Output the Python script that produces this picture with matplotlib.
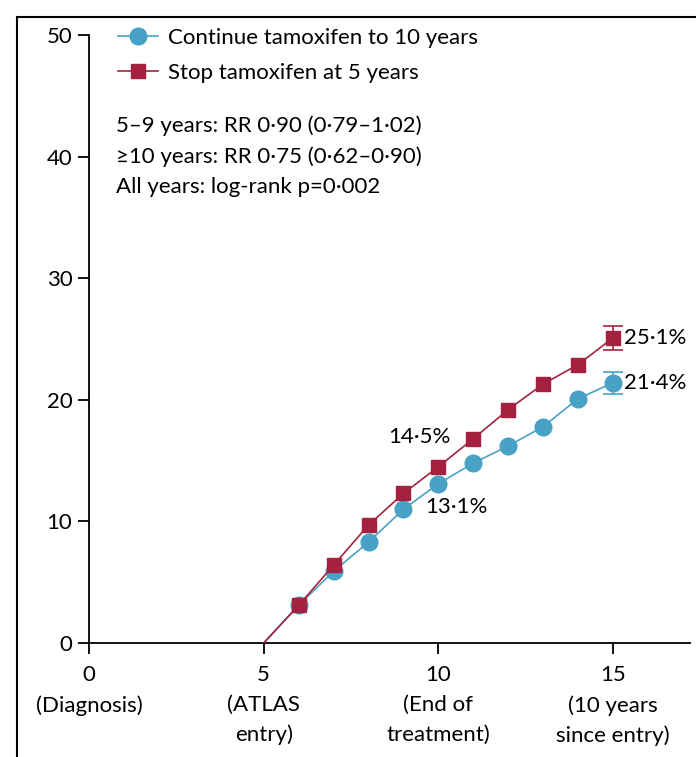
import matplotlib.pyplot as plt
from matplotlib.patches import Rectangle

plt.rcParams['font.family'] = ['Lato', 'DejaVu Sans']

years = [5, 6, 7, 8, 9, 10, 11, 12, 13, 14, 15]
cont = [0, 3.1, 5.9, 8.3, 11.0, 13.1, 14.8, 16.2, 17.8, 20.1, 21.4]
stop = [0, 3.1, 6.4, 9.7, 12.3, 14.5, 16.8, 19.2, 21.3, 22.9, 25.1]
cont_err = 0.9
stop_err = 1.0

xticks = [0, 5, 10, 15]
xlabels = ["0\n(Diagnosis)", "5\n(ATLAS\nentry)", "10\n(End of\ntreatment)", "15\n(10 years\nsince entry)"]
yticks = [0, 10, 20, 30, 40, 50]

blue = '#48a2c6'
red = '#a4223f'
fs = 16

fig = plt.figure(figsize=(6.96, 7.57), dpi=100)
ax = fig.add_axes([89/696, 1-643/757, (690-89)/696, (643-35)/757])

# outer frame
fig.patches.append(Rectangle((17/696, -0.1), 1.2, 1.1 - 17/757, transform=fig.transFigure,
                             fill=False, lw=1.5, ec='black'))

ax.plot(years, cont, color=blue, lw=1.2, zorder=3)
ax.plot(years[1:], cont[1:], 'o', color=blue, ms=12, zorder=4)
ax.plot(years, stop, color=red, lw=1.2, zorder=5)
ax.plot(years[1:], stop[1:], 's', color=red, ms=10.5, zorder=6)
ax.errorbar([15], [cont[-1]], yerr=cont_err, color=blue, capsize=7, lw=1.2, capthick=1.2, zorder=4)
ax.errorbar([15], [stop[-1]], yerr=stop_err, color=red, capsize=7, lw=1.2, capthick=1.2, zorder=6)

h1, = ax.plot([], [], '-o', color=blue, ms=12, lw=1.2)
h2, = ax.plot([], [], '-s', color=red, ms=10.5, lw=1.2)
ax.legend([h1, h2], ["Continue tamoxifen to 10 years", "Stop tamoxifen at 5 years"],
          loc='upper left', bbox_to_anchor=(0.033, 1.026), frameon=False, fontsize=fs,
          handlelength=1.8, handletextpad=0.45, labelspacing=0.65, borderaxespad=0)

ax.text(0.045, 0.867, "5–9 years: RR 0·90 (0·79–1·02)\n≥10 years: RR 0·75 (0·62–0·90)\nAll years: log-rank p=0·002",
        transform=ax.transAxes, fontsize=fs, va='top', ha='left', linespacing=1.62)

ax.text(10.34, 16.9, "14·5%", fontsize=fs, ha='right', va='center')
ax.text(9.63, 11.2, "13·1%", fontsize=fs, ha='left', va='center')
ax.text(15.3, stop[-1], "25·1%", fontsize=fs, ha='left', va='center')
ax.text(15.3, cont[-1], "21·4%", fontsize=fs, ha='left', va='center')

ax.set_xlim(0, 17.2)
ax.set_ylim(0, 50)
ax.set_xticks(xticks)
ax.set_xticklabels(xlabels, fontsize=fs, linespacing=1.6)
ax.set_yticks(yticks)
ax.set_yticklabels([str(v) for v in yticks], fontsize=fs)
ax.spines['top'].set_visible(False)
ax.spines['right'].set_visible(False)
for s in ['left', 'bottom']:
    ax.spines[s].set_linewidth(1.3)
ax.tick_params(length=8, width=1.3, pad=4)
ax.tick_params(axis='x', pad=8)

fig.savefig('out.png', dpi=100)
